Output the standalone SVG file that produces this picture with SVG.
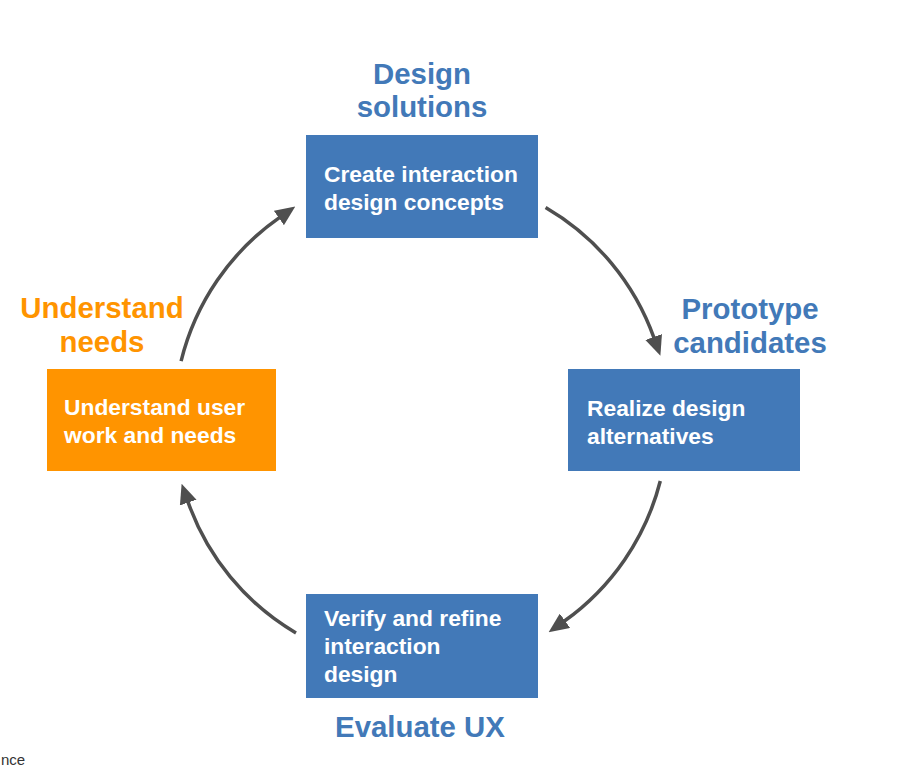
<svg xmlns="http://www.w3.org/2000/svg" width="911" height="769" viewBox="0 0 911 769">
<style>
.box-blue{fill:#4279b8;}
.box-orange{fill:#ff9400;}
.bt{font-family:"Liberation Sans",Arial,Helvetica,sans-serif;font-weight:bold;font-size:22.8px;fill:#ffffff;}
.tt{font-family:"Liberation Sans",Arial,Helvetica,sans-serif;font-weight:bold;font-size:29.4px;text-anchor:middle;}
.blue{fill:#4279b8;}
.orange{fill:#ff9400;}
.conn{fill:none;stroke:#4f4f4f;stroke-width:3.5;marker-end:url(#ah);}
</style>
<defs>
<marker id="ah" viewBox="0 -9 20 18" refX="1" refY="0" markerWidth="20" markerHeight="18" markerUnits="userSpaceOnUse" orient="auto">
<path d="M0,-8.8 L20,0 L0,8.8 z" fill="#4f4f4f"/>
</marker>
</defs>
<rect width="911" height="769" fill="#ffffff"/>

<g id="connectors">
<path class="conn" d="M181.1,361.1 A247,247 0 0 1 279.7,217.4"/>
<path class="conn" d="M545.6,207.5 A247,247 0 0 1 654.0,337.9"/>
<path class="conn" d="M660.3,481.0 A247,247 0 0 1 564.1,621.3"/>
<path class="conn" d="M296.0,633.0 A247,247 0 0 1 187.9,501.6"/>
</g>

<g id="node-design">
<rect class="box-blue" x="306" y="135" width="232" height="103"/>
<text class="bt" x="324" y="182">Create interaction</text>
<text class="bt" x="324" y="210">design concepts</text>
<text class="tt blue" x="422" y="84">Design</text>
<text class="tt blue" x="422" y="117">solutions</text>
</g>

<g id="node-prototype">
<rect class="box-blue" x="568" y="369" width="232" height="102"/>
<text class="bt" x="587" y="416">Realize design</text>
<text class="bt" x="587" y="444">alternatives</text>
<text class="tt blue" x="750" y="319">Prototype</text>
<text class="tt blue" x="750" y="353">candidates</text>
</g>

<g id="node-evaluate">
<rect class="box-blue" x="306" y="594" width="232" height="104"/>
<text class="bt" x="324" y="626">Verify and refine</text>
<text class="bt" x="324" y="654">interaction</text>
<text class="bt" x="324" y="682">design</text>
<text class="tt blue" x="420" y="737">Evaluate UX</text>
</g>

<g id="node-understand">
<rect class="box-orange" x="47" y="369" width="229" height="102"/>
<text class="bt" x="64" y="415">Understand user</text>
<text class="bt" x="64" y="443">work and needs</text>
<text class="tt orange" x="102" y="318">Understand</text>
<text class="tt orange" x="102" y="352">needs</text>
</g>

<text x="1" y="765" font-family="'Liberation Sans',Arial,sans-serif" font-size="15" fill="#333333">nce</text>
</svg>
